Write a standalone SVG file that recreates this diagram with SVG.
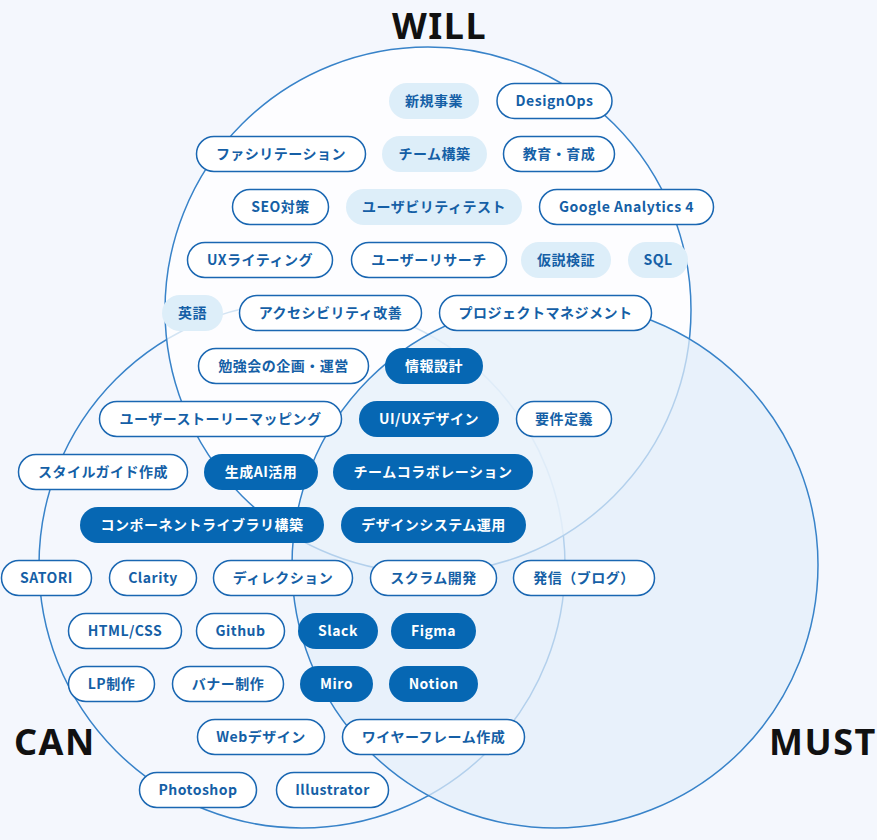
<svg xmlns="http://www.w3.org/2000/svg" width="877" height="840" viewBox="0 0 877 840">
<style>
.bg{fill:#f4f7fd}
.ring{stroke:#3883c9;stroke-width:1.5}
.can{fill:#f4f7fd}
.will{fill:#ffffff;fill-opacity:0.78}
.must{fill:#e3eef9;fill-opacity:0.72}
.o rect{fill:#ffffff;stroke:#1a67b2;stroke-width:1.5}
.l rect{fill:#ddeef9}
.s rect{fill:#0667b3}
text{font-family:"Noto Sans CJK JP","Noto Sans",sans-serif;font-weight:700}
.o text,.l text{fill:#155fa6;font-size:14px;letter-spacing:0.5px;text-anchor:middle}
.s text{fill:#ffffff;font-size:14px;letter-spacing:0.5px;text-anchor:middle}
.title{fill:#111111;font-family:"Noto Sans","Noto Sans CJK JP",sans-serif;font-size:36px;letter-spacing:1.5px}
</style>
<rect class="bg" x="0" y="0" width="877" height="840"/>
<g id="sets">
<circle class="can ring" cx="302" cy="565" r="263"/>
<circle class="will ring" cx="428" cy="310" r="263"/>
<circle class="must ring" cx="555" cy="565" r="263"/>
</g>
<g id="labels">
<text class="title" x="392" y="39">WILL</text>
<text class="title" x="14" y="755">CAN</text>
<text class="title" x="769" y="755">MUST</text>
</g>
<g id="nodes">
<g id="n-shinki" class="l"><rect x="389" y="83" width="90" height="36" rx="18"/><text x="434" y="106">新規事業</text></g>
<g id="n-designops" class="o"><rect x="497" y="83.5" width="115" height="35" rx="17.5"/><text x="554.5" y="106">DesignOps</text></g>

<g id="n-facili" class="o"><rect x="196.5" y="136.5" width="169" height="35" rx="17.5"/><text x="281" y="159">ファシリテーション</text></g>
<g id="n-team" class="l"><rect x="382" y="136" width="105" height="36" rx="18"/><text x="434.5" y="159">チーム構築</text></g>
<g id="n-kyoiku" class="o"><rect x="503.5" y="136.5" width="111" height="35" rx="17.5"/><text x="559" y="159">教育・育成</text></g>

<g id="n-seo" class="o"><rect x="232.5" y="189.5" width="96" height="35" rx="17.5"/><text x="280.5" y="212">SEO対策</text></g>
<g id="n-usability" class="l"><rect x="346" y="189" width="176" height="36" rx="18"/><text x="434" y="212">ユーザビリティテスト</text></g>
<g id="n-ga4" class="o"><rect x="539.5" y="189.5" width="174" height="35" rx="17.5"/><text x="626.5" y="212">Google Analytics 4</text></g>

<g id="n-uxwriting" class="o"><rect x="187.5" y="242.5" width="145" height="35" rx="17.5"/><text x="260" y="265">UXライティング</text></g>
<g id="n-research" class="o"><rect x="351.5" y="242.5" width="155" height="35" rx="17.5"/><text x="429" y="265">ユーザーリサーチ</text></g>
<g id="n-kasetsu" class="l"><rect x="521" y="242" width="90" height="36" rx="18"/><text x="566" y="265">仮説検証</text></g>
<g id="n-sql" class="l"><rect x="628" y="242" width="60" height="36" rx="18"/><text x="658" y="265">SQL</text></g>

<g id="n-eigo" class="l"><rect x="162" y="295" width="61" height="36" rx="18"/><text x="192.5" y="318">英語</text></g>
<g id="n-a11y" class="o"><rect x="239.5" y="295.5" width="182" height="35" rx="17.5"/><text x="330.5" y="318">アクセシビリティ改善</text></g>
<g id="n-pm" class="o"><rect x="439.5" y="295.5" width="212" height="35" rx="17.5"/><text x="545.5" y="318">プロジェクトマネジメント</text></g>

<g id="n-benkyo" class="o"><rect x="198.5" y="348.5" width="170" height="35" rx="17.5"/><text x="283.5" y="371">勉強会の企画・運営</text></g>
<g id="n-ia" class="s"><rect x="385" y="348" width="98" height="36" rx="18"/><text x="434" y="371">情報設計</text></g>

<g id="n-storymap" class="o"><rect x="99.5" y="401.5" width="242" height="35" rx="17.5"/><text x="220.5" y="424">ユーザーストーリーマッピング</text></g>
<g id="n-uiux" class="s"><rect x="359" y="401" width="140" height="36" rx="18"/><text x="429" y="424">UI/UXデザイン</text></g>
<g id="n-yoken" class="o"><rect x="516.5" y="401.5" width="95" height="35" rx="17.5"/><text x="564" y="424">要件定義</text></g>

<g id="n-styleguide" class="o"><rect x="18.5" y="454.5" width="169" height="35" rx="17.5"/><text x="103" y="477">スタイルガイド作成</text></g>
<g id="n-genai" class="s"><rect x="204" y="454" width="114" height="36" rx="18"/><text x="261" y="477">生成AI活用</text></g>
<g id="n-teamcollab" class="s"><rect x="333" y="454" width="200" height="36" rx="18"/><text x="433" y="477">チームコラボレーション</text></g>

<g id="n-complib" class="s"><rect x="80" y="507" width="244" height="36" rx="18"/><text x="202" y="530">コンポーネントライブラリ構築</text></g>
<g id="n-designsystem" class="s"><rect x="341" y="507" width="185" height="36" rx="18"/><text x="433.5" y="530">デザインシステム運用</text></g>

<g id="n-satori" class="o"><rect x="1.5" y="560.5" width="90" height="35" rx="17.5"/><text x="46.5" y="583">SATORI</text></g>
<g id="n-clarity" class="o"><rect x="109.5" y="560.5" width="87" height="35" rx="17.5"/><text x="153" y="583">Clarity</text></g>
<g id="n-direction" class="o"><rect x="213.5" y="560.5" width="139" height="35" rx="17.5"/><text x="283" y="583">ディレクション</text></g>
<g id="n-scrum" class="o"><rect x="370.5" y="560.5" width="126" height="35" rx="17.5"/><text x="433.5" y="583">スクラム開発</text></g>
<g id="n-blog" class="o"><rect x="513.5" y="560.5" width="141" height="35" rx="17.5"/><text x="584" y="583">発信（ブログ）</text></g>

<g id="n-htmlcss" class="o"><rect x="68.5" y="613.5" width="113" height="35" rx="17.5"/><text x="125" y="636">HTML/CSS</text></g>
<g id="n-github" class="o"><rect x="196.5" y="613.5" width="88" height="35" rx="17.5"/><text x="240.5" y="636">Github</text></g>
<g id="n-slack" class="s"><rect x="298" y="613" width="80" height="36" rx="18"/><text x="338" y="636">Slack</text></g>
<g id="n-figma" class="s"><rect x="391" y="613" width="85" height="36" rx="18"/><text x="433.5" y="636">Figma</text></g>

<g id="n-lp" class="o"><rect x="68.5" y="666.5" width="86" height="35" rx="17.5"/><text x="111.5" y="689">LP制作</text></g>
<g id="n-banner" class="o"><rect x="172.5" y="666.5" width="111" height="35" rx="17.5"/><text x="228" y="689">バナー制作</text></g>
<g id="n-miro" class="s"><rect x="300" y="666" width="73" height="36" rx="18"/><text x="336.5" y="689">Miro</text></g>
<g id="n-notion" class="s"><rect x="389" y="666" width="89" height="36" rx="18"/><text x="433.5" y="689">Notion</text></g>

<g id="n-web" class="o"><rect x="197.5" y="719.5" width="127" height="35" rx="17.5"/><text x="261" y="742">Webデザイン</text></g>
<g id="n-wireframe" class="o"><rect x="342.5" y="719.5" width="182" height="35" rx="17.5"/><text x="433.5" y="742">ワイヤーフレーム作成</text></g>

<g id="n-photoshop" class="o"><rect x="139.5" y="772.5" width="117" height="35" rx="17.5"/><text x="198" y="795">Photoshop</text></g>
<g id="n-illustrator" class="o"><rect x="276.5" y="772.5" width="112" height="35" rx="17.5"/><text x="332.5" y="795">Illustrator</text></g>
</g>
</svg>
